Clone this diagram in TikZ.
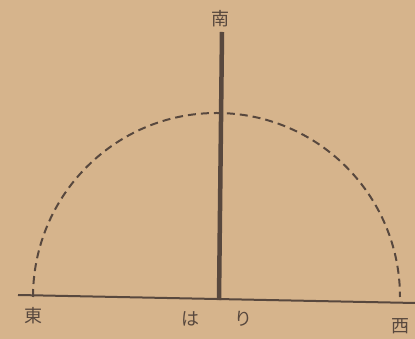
\documentclass[tikz,border=0pt]{standalone}
\usepackage{fontspec}
\newfontfamily\jp{Noto Sans CJK JP}
\definecolor{paper}{RGB}{214,180,140}
\definecolor{ink}{RGB}{88,72,62}
\begin{document}
\begin{tikzpicture}[x=1pt,y=1pt,
  lbl/.style={inner sep=0pt,text=ink,font=\jp\fontsize{18}{18}\selectfont},
  base/.style={draw=ink,line width=2pt},
  pole/.style={draw=ink,line width=4.5pt},
  path/.style={draw=ink,line width=2pt,dash pattern=on 8pt off 5pt}]
\fill[paper] (0,0) rectangle (415,339);
\useasboundingbox (0,0) rectangle (415,339);
\node[lbl] (S) at (220,320) {南};
\node[lbl] (E) at (33,23) {東};
\node[lbl] (Ha) at (190,20) {は};
\node[lbl] (Ri) at (243,20) {り};
\node[lbl] (W) at (400,13) {西};
\coordinate (ptop) at (222,307);
\coordinate (pbot) at (219,39);
\coordinate (gl) at (18,44);
\coordinate (gr) at (415,36);
\coordinate (al) at (33,42);
\draw[base] (gl) -- (gr);
\draw[pole] (ptop) -- (pbot);
\draw[path] (al) arc[start angle=180,end angle=0,x radius=183.5,y radius=184];
\end{tikzpicture}
\end{document}
